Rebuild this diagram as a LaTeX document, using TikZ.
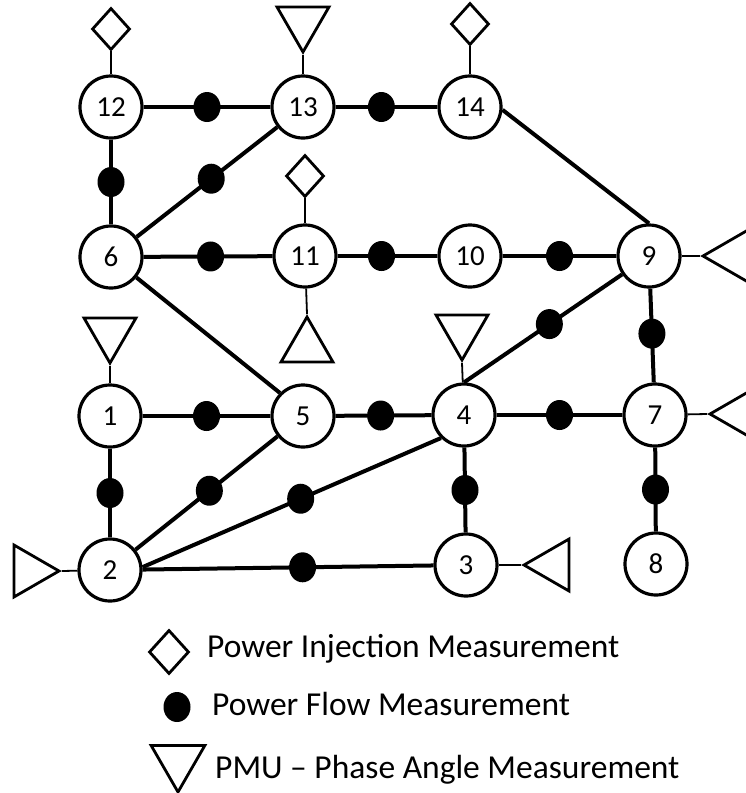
\documentclass[tikz,border=0pt]{standalone}
\usepackage{fontspec}
\setmainfont{Carlito}
\usetikzlibrary{shapes.geometric}
\tikzset{
  bus/.style={circle, draw, line width=3.2pt, minimum size=62pt, inner sep=0pt,
    fill=white, font=\fontsize{29}{32}\selectfont},
  flow/.style={ellipse, fill=black, minimum width=27pt, minimum height=30pt, inner sep=0pt},
  line/.style={line width=4pt},
  stem/.style={line width=1.8pt},
  inj/.style={diamond, draw, line width=2.8pt, minimum width=38pt, minimum height=42pt,
    inner sep=0pt, fill=white},
  pmu/.style={regular polygon, regular polygon sides=3, draw, line width=2.8pt,
    minimum size=60pt, inner sep=0pt, shape border rotate=#1},
  legend/.style={anchor=base west, font=\fontsize{33.5}{38}\selectfont, inner sep=0pt},
}
\begin{document}
\begin{tikzpicture}[x=1pt, y=-1pt]
\path[use as bounding box] (0,0) rectangle (746,793);
\clip (0,0) rectangle (746,793);

% buses
\node[bus] (n12) at (111,107) {12};
\node[bus] (n13) at (303,107) {13};
\node[bus] (n14) at (470,107) {14};
\node[bus] (n6)  at (111,257) {6};
\node[bus] (n11) at (305,256) {11};
\node[bus] (n10) at (470,256) {10};
\node[bus] (n9)  at (649,256) {9};
\node[bus] (n1)  at (110,416) {1};
\node[bus] (n5)  at (303,416) {5};
\node[bus] (n4)  at (464,415) {4};
\node[bus] (n7)  at (655,415) {7};
\node[bus] (n2)  at (110,570) {2};
\node[bus] (n3)  at (466,565) {3};
\node[bus] (n8)  at (656,564) {8};

% power injection meters
\node[inj] (i12) at (111,29) {};
\node[inj] (i14) at (470,24) {};
\node[inj] (i11) at (305,176) {};

% phasor measurement units
\node[pmu=180] (t13) at (303,22) {};
\node[pmu=180] (t1)  at (110,333) {};
\node[pmu=180] (t4)  at (462,330) {};
\node[pmu=0]   (t11) at (307,347) {};
\node[pmu=-90] (t2)  at (29,571) {};
\node[pmu=90]  (t3)  at (554,565) {};
\node[pmu=90]  (t9)  at (733,256) {};
\node[pmu=90]  (t7)  at (740,414) {};

% branches with flow meters
\draw[line] (n12) -- node[flow,pos=.5]  (f1)  {} (n13);
\draw[line] (n13) -- node[flow,pos=.45] (f2)  {} (n14);
\draw[line] (n12) -- node[flow,pos=.5]  (f3)  {} (n6);
\draw[line] (n6)  -- node[flow,pos=.53] (f4)  {} (n13);
\draw[line] (n6)  -- node[flow,pos=.52] (f5)  {} (n11);
\draw[line] (n11) -- node[flow,pos=.44] (f6)  {} (n10);
\draw[line] (n10) -- node[flow,pos=.5]  (f7)  {} (n9);
\draw[line] (n14.-5) -- (n9.north);
\draw[line] (n6) -- (n5.135);
\draw[line] (n4.north) -- node[flow,pos=.54] (f8) {} (n9);
\draw[line] (n9)  -- node[flow,pos=.48] (f9)  {} (n7);
\draw[line] (n1)  -- node[flow,pos=.5]  (f10) {} (n5);
\draw[line] (n1)  -- node[flow,pos=.5]  (f11) {} (n2);
\draw[line] (n2)  -- node[flow,pos=.52] (f12) {} (n5);
\draw[line] (n2.5) -- node[flow,pos=.53] (f13) {} (n4.225);
\draw[line] (n2)  -- node[flow,pos=.55] (f14) {} (n3);
\draw[line] (n5)  -- node[flow,pos=.47] (f15) {} (n4);
\draw[line] (n4)  -- node[flow,pos=.5]  (f16) {} (n7);
\draw[line] (n4)  -- node[flow,pos=.5]  (f17) {} (n3);
\draw[line] (n7)  -- node[flow,pos=.5]  (f18) {} (n8);

% meter leads
\draw[stem] (i12) -- (n12);
\draw[stem] (i14) -- (n14);
\draw[stem] (i11) -- (n11);
\draw[stem] (t13.corner 1) -- (n13);
\draw[stem] (t1.corner 1) -- (n1);
\draw[stem] (t4.corner 1) -- (n4);
\draw[stem] (t11.corner 1) -- (n11);
\draw[stem] (t2.corner 1) -- (n2);
\draw[stem] (t3.corner 1) -- (n3);
\draw[stem] (t9.corner 1) -- (n9);
\draw[stem] (t7.corner 1) -- (n7);

% legend
\node[inj, minimum width=40pt, minimum height=44pt] (li) at (169,652) {};
\node[flow] (lf) at (177,707) {};
\node[pmu=180, minimum size=62pt] (lp) at (178,761) {};
\node[legend] (lti) at (207,657) {Power Injection Measurement};
\node[legend] (ltf) at (212,715) {Power Flow Measurement};
\node[legend] (ltp) at (215,778) {PMU – Phase Angle Measurement};
\end{tikzpicture}
\end{document}
